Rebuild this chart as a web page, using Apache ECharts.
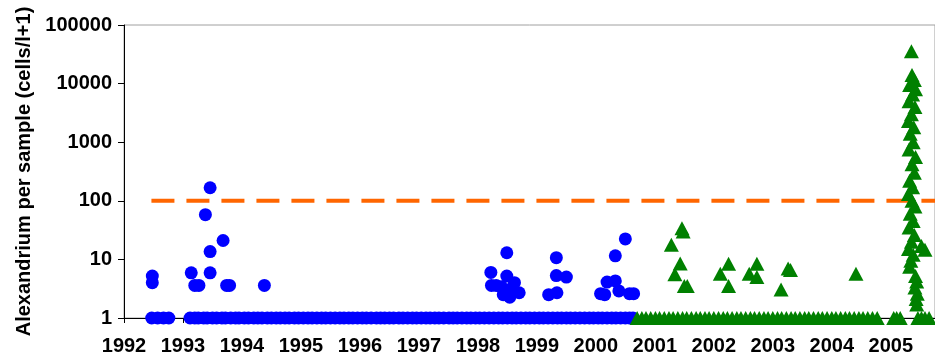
<!DOCTYPE html>
<html>
<head>
<meta charset="utf-8">
<script src="https://cdn.jsdelivr.net/npm/echarts@6/dist/echarts.min.js"></script>
<style>
  html, body { margin: 0; padding: 0; background: #fff; }
  #chart { width: 935px; height: 360px; }
</style>
</head>
<body>
<div id="chart"></div>
<script>
// Sample dates (decimal years) where nothing was found: plotted at 1 (cells/l + 1)
const blueZeroDates = [
  1992.47, 1992.57, 1992.67, 1992.76,
  1993.12, 1993.20, 1993.26, 1993.35, 1993.41, 1993.50, 1993.57, 1993.66, 1993.72, 1993.81, 1993.89, 1993.95,
  1994.04, 1994.11, 1994.20, 1994.27, 1994.34, 1994.43, 1994.50, 1994.58, 1994.65, 1994.73, 1994.80, 1994.89, 1994.96,
  1995.04, 1995.12, 1995.19, 1995.27, 1995.35, 1995.42, 1995.50, 1995.58, 1995.66, 1995.73, 1995.81, 1995.88, 1995.96,
  1996.04, 1996.11, 1996.19, 1996.28, 1996.35, 1996.42, 1996.50, 1996.57, 1996.66, 1996.73, 1996.81, 1996.89, 1996.96,
  1997.04, 1997.12, 1997.19, 1997.27, 1997.34, 1997.42, 1997.51, 1997.58, 1997.65, 1997.73, 1997.81, 1997.88, 1997.96,
  1998.03, 1998.11, 1998.19, 1998.27, 1998.35, 1998.42, 1998.50, 1998.58, 1998.65, 1998.73, 1998.81, 1998.88, 1998.96,
  1999.04, 1999.11, 1999.19, 1999.27, 1999.35, 1999.42, 1999.50, 1999.57, 1999.65, 1999.73, 1999.81, 1999.89, 1999.96,
  2000.04, 2000.11, 2000.19, 2000.27, 2000.34, 2000.42, 2000.50, 2000.57, 2000.63
];
// 1992-2000 samples with cells present
const blueDates = [
  1992.48, 1992.48, 1993.14, 1993.20, 1993.27, 1993.46, 1993.38, 1993.46, 1993.46, 1993.68, 1993.74, 1993.79, 1994.38,
  1998.22, 1998.23, 1998.31, 1998.40, 1998.43, 1998.49, 1998.49, 1998.54, 1998.57, 1998.62, 1998.70,
  1999.20, 1999.33, 1999.33, 1999.34, 1999.50,
  2000.08, 2000.15, 2000.19, 2000.33, 2000.33, 2000.39, 2000.50, 2000.57, 2000.64
];
const blueCounts = [
  5.2, 4.0, 5.9, 3.6, 3.6, 167, 58, 13.6, 5.9, 21, 3.6, 3.6, 3.6,
  6.0, 3.6, 3.6, 3.4, 2.5, 13.0, 5.2, 2.26, 3.2, 4.0, 2.7,
  2.5, 10.7, 5.3, 2.7, 5.0,
  2.6, 2.5, 4.1, 11.5, 4.3, 2.9, 22.4, 2.6, 2.6
];

const greenZeroDates = [
  2000.70, 2000.78, 2000.85, 2000.93,
  2001.01, 2001.08, 2001.16, 2001.24, 2001.31, 2001.39, 2001.47, 2001.54, 2001.62, 2001.70, 2001.77, 2001.85, 2001.92,
  2002.00, 2002.08, 2002.16, 2002.23, 2002.31, 2002.39, 2002.46, 2002.54, 2002.62, 2002.69, 2002.77, 2002.85, 2002.92,
  2003.00, 2003.08, 2003.15, 2003.23, 2003.31, 2003.38, 2003.46, 2003.54, 2003.61, 2003.69, 2003.77, 2003.84, 2003.92,
  2004.00, 2004.07, 2004.15, 2004.23, 2004.30, 2004.38, 2004.46, 2004.53, 2004.61, 2004.69, 2004.77,
  2005.05, 2005.10, 2005.16, 2005.46, 2005.52, 2005.58, 2005.65
];
// 2000-2005 samples with cells present
const greenDates = [
  2001.46, 2001.48, 2001.28, 2001.43, 2001.34, 2001.50, 2001.55,
  2002.11, 2002.25, 2002.25, 2002.60, 2002.73, 2002.73,
  2003.14, 2003.26, 2003.30, 2004.41,
  2005.35, 2005.36, 2005.40, 2005.32, 2005.42, 2005.37, 2005.31, 2005.41, 2005.35, 2005.30, 2005.39,
  2005.33, 2005.38, 2005.31, 2005.42, 2005.36, 2005.40, 2005.32, 2005.37, 2005.30, 2005.36, 2005.41,
  2005.33, 2005.38, 2005.31, 2005.40, 2005.35, 2005.30, 2005.38, 2005.34, 2005.32,
  2005.42, 2005.44, 2005.41, 2005.45, 2005.43, 2005.44, 2005.58, 2005.52
];
const greenCounts = [
  34, 30, 17.7, 8.5, 5.6, 3.5, 3.5,
  5.7, 8.4, 3.5, 5.7, 8.4, 5.0,
  3.05, 7.0, 6.6, 5.7,
  35600, 14000, 11500, 9500, 8000, 6500, 5000, 4000, 3000, 2300, 1800,
  1400, 1000, 750, 560, 420, 300, 220, 170, 130, 100, 80,
  60, 45, 35, 26, 20, 15, 12, 9.5, 7.5,
  5.2, 4.2, 3.3, 2.6, 2.1, 1.7, 14.6, 17
];

// Alert threshold: 100 cells/l
const thresholdYears = [1992.465, 2005.75];
const thresholdValue = 100;

const xMin = 1992, xMax = 2005.75;

const pairs = (xs, ys) => xs.map((x, i) => [x, Array.isArray(ys) ? ys[i] : ys]);

const FONT = '"Liberation Sans", Arial, sans-serif';

const chart = echarts.init(document.getElementById('chart'), null, { renderer: 'canvas' });
chart.setOption({
  animation: false,
  backgroundColor: '#ffffff',
  grid: {
    left: 124, right: 0, top: 25, bottom: 42,
    show: true, borderColor: '#a0a0a0', borderWidth: 1, backgroundColor: 'transparent'
  },
  xAxis: {
    type: 'value',
    min: xMin, max: xMax, interval: 1,
    splitLine: { show: false },
    axisLine: { show: true, onZero: false, lineStyle: { color: '#000', width: 1 } },
    axisTick: { show: true, inside: false, length: 5, lineStyle: { color: '#000' } },
    axisLabel: {
      margin: 18, color: '#000', fontFamily: FONT, fontWeight: 'bold', fontSize: 20,
      showMaxLabel: false,
      formatter: v => (Number.isInteger(v) ? String(v) : '')
    }
  },
  yAxis: {
    type: 'log', logBase: 10, min: 1, max: 100000,
    name: 'Alexandrium per sample (cells/l+1)',
    nameLocation: 'middle', nameGap: 90, nameRotate: 90,
    nameTextStyle: { color: '#000', fontFamily: FONT, fontWeight: 'bold', fontSize: 20 },
    splitLine: { show: false },
    axisLine: { show: true, lineStyle: { color: '#000', width: 1 } },
    axisTick: { show: true, inside: false, length: 6, lineStyle: { color: '#000' } },
    axisLabel: {
      margin: 12, color: '#000', fontFamily: FONT, fontWeight: 'bold', fontSize: 20,
      formatter: v => String(Math.round(v))
    }
  },
  series: [
    {
      type: 'line',
      data: pairs(thresholdYears, thresholdValue),
      symbol: 'none',
      z: 1,
      lineStyle: { color: '#FF6600', width: 4, type: [23, 12] }
    },
    {
      type: 'scatter',
      data: pairs(blueZeroDates, 1).concat(pairs(blueDates, blueCounts)),
      symbol: 'circle', symbolSize: 13,
      itemStyle: { color: '#0000FF', opacity: 1 }
    },
    {
      type: 'scatter',
      data: pairs(greenZeroDates, 1).concat(pairs(greenDates, greenCounts)),
      symbol: 'triangle', symbolSize: [15, 14],
      itemStyle: { color: '#008000', opacity: 1 }
    }
  ]
});
</script>
</body>
</html>
